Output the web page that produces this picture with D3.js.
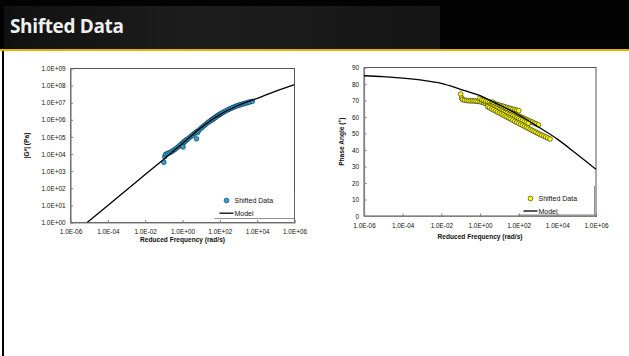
<!DOCTYPE html>
<html><head><meta charset="utf-8">
<script src="https://cdn.jsdelivr.net/npm/d3@7"></script>
<style>html,body{margin:0;padding:0;background:#fff;}svg{display:block;}</style>
</head><body>
<svg id="c" width="629" height="356"></svg>
<script>
// ---------- DATA ----------
const slideTitle = "Shifted Data";
const xTickValues = [1e-6, 1e-4, 1e-2, 1e0, 1e2, 1e4, 1e6];
const xTickLabels = ["1.0E-06","1.0E-04","1.0E-02","1.0E+00","1.0E+02","1.0E+04","1.0E+06"];
const gTickValues = [1e0,1e1,1e2,1e3,1e4,1e5,1e6,1e7,1e8,1e9];
const gTickLabels = ["1.0E+00","1.0E+01","1.0E+02","1.0E+03","1.0E+04","1.0E+05","1.0E+06","1.0E+07","1.0E+08","1.0E+09"];
const phaseTicks = [0,10,20,30,40,50,60,70,80,90];
const xTitle = "Reduced Frequency (rad/s)";
const gTitle = "|G*| (Pa)";
const phaseTitle = "Phase Angle (°)";
const legendNames = ["Shifted Data", "Model"];

// |G*| model [freq, Pa]
const gModel = [[7.8e-6,1],[1e-4,1.0e1],[1e-3,7.9e1],[1e-2,6.3e2],[1e-1,5.0e3],[1,4.2e4],[10,3.5e5],[100,2.0e6],[1000,7.1e6],[1e4,1.8e7],[1e5,4.8e7],[1e6,1.15e8]];
// |G*| shifted data, by temperature segment [freq, Pa]
const gDataA = [[0.1,3.3e3],[0.112,7.1e3],[0.126,9.5e3],[0.158,1.07e4],[0.2,1.2e4],[0.251,1.35e4],[0.316,1.58e4],[0.398,1.9e4],[0.501,2.3e4],[0.631,2.8e4],[0.794,3.5e4],[1,4.4e4],[1.26,5.4e4],[1.58,6.6e4]];
const gDataB = [[1.07,2.6e4],[1.2,4.8e4],[1.41,5.8e4],[1.78,7.1e4],[2.24,8.7e4],[2.82,1.07e5],[3.55,1.32e5],[4.47,1.62e5],[5.62,2.0e5]];
const gDataC = [[5.62,7.8e4],[6.31,1.78e5],[7.08,2.3e5],[8.91,2.9e5],[11.2,3.6e5],[14.1,4.5e5],[17.8,5.5e5],[22.4,6.8e5],[28.2,8.1e5],[35.5,9.8e5],[44.7,1.17e6],[56.2,1.41e6],[70.8,1.66e6],[89.1,1.95e6],[112,2.24e6]];
const gDataD = [[39.8,1.0e6],[50.1,1.23e6],[63.1,1.48e6],[79.4,1.78e6],[100,2.09e6],[126,2.45e6],[158,2.82e6],[200,3.24e6],[251,3.72e6],[316,4.17e6],[398,4.68e6],[501,5.25e6],[631,5.89e6],[794,6.46e6],[1000,7.08e6],[1259,7.59e6],[1585,8.32e6],[1995,8.91e6],[2512,9.55e6],[3162,1.02e7],[3981,1.10e7],[5495,1.20e7]];

// Phase angle model [freq, deg]
const pModel = [[1e-6,85.0],[1e-5,84.5],[1e-4,83.6],[1e-3,82.3],[1e-2,80.4],[1e-1,76.8],[1,72.9],[10,67.3],[100,61.2],[1000,54.1],[1e4,46.6],[1e5,37.6],[1e6,28.3]];
// Phase angle shifted data [freq, deg]
const pDataA = [[0.1,73.9],[0.112,71.4],[0.126,70.6],[0.158,70.2],[0.2,70.0],[0.251,69.9],[0.316,69.8],[0.398,69.8],[0.501,69.7],[0.631,69.6],[0.794,69.5],[1,69.3],[1.26,69.0],[1.58,68.6],[2.0,68.2],[2.51,67.8],[3.16,67.4]];
const pDataB = [[1,71.3],[1.26,70.4],[1.58,70.0],[2.0,69.6],[2.51,69.3],[3.16,68.9],[3.98,68.6],[5.01,68.2],[6.31,67.9],[7.94,67.5],[10,67.2],[12.6,66.8],[15.8,66.5],[20,66.1],[25.1,65.8],[31.6,65.4],[39.8,65.1],[50.1,64.7],[63.1,64.4],[79.4,64.1],[100,63.8]];
const pDataC = [[4.57,69.0],[5.01,67.6],[6.31,67.0],[7.94,66.5],[10,66.0],[12.6,65.5],[15.8,64.9],[20,64.4],[25.1,63.9],[31.6,63.3],[39.8,62.8],[50.1,62.2],[63.1,61.7],[79.4,61.2],[100,60.6],[126,60.1],[158,59.6],[200,59.0],[251,58.5],[316,57.9],[398,57.4],[501,56.9],[631,56.3],[794,55.8],[1047,55.2]];
const pDataD = [[3.16,67.0],[3.98,66.5],[5.01,66.0],[6.31,65.4],[7.94,64.9],[10,64.3],[12.6,63.8],[15.8,63.3],[20,62.7],[25.1,62.2],[31.6,61.6],[39.8,61.1],[50.1,60.6],[63.1,60.0],[79.4,59.5],[100,58.9],[126,58.4],[158,57.9],[200,57.3],[251,56.8],[316,56.2]];
const pDataE = [[2.51,66.2],[3.16,65.6],[3.98,64.9],[5.01,64.3],[6.31,63.7],[7.94,63.0],[10,62.4],[12.6,61.8],[15.8,61.2],[20,60.5],[25.1,59.9],[31.6,59.3],[39.8,58.7],[50.1,58.1],[63.1,57.4],[79.4,56.8],[100,56.2],[126,55.6],[158,55.0],[200,54.4],[251,53.8],[316,53.2],[398,52.5],[501,51.9],[631,51.3],[794,50.7],[1000,50.1],[1259,49.5],[1585,49.0],[1995,48.4],[2512,47.9],[3162,47.3],[4169,46.7]];

// ---------- DRAW ----------
const svg = d3.select("#c");
const FONT = "'Liberation Sans', Arial, sans-serif";
const defs = svg.append("defs");

// header bar
svg.append("rect").attr("x",0).attr("y",0).attr("width",629).attr("height",49).attr("fill","#030303");
const grad = defs.append("linearGradient").attr("id","hg").attr("x1","0").attr("x2","1");
grad.append("stop").attr("offset","0").attr("stop-color","#111");
grad.append("stop").attr("offset","0.45").attr("stop-color","#1d1d1d");
grad.append("stop").attr("offset","1").attr("stop-color","#151515");
svg.append("rect").attr("x",4).attr("y",6).attr("width",436).attr("height",43).attr("fill","url(#hg)");
svg.append("rect").attr("x",0).attr("y",49).attr("width",629).attr("height",2).attr("fill","#e8b100");
svg.append("text").attr("x",10).attr("y",33).attr("fill","#efefef")
  .attr("font-family","'Open Sans', sans-serif").attr("font-weight",700).attr("font-size",19)
  .attr("letter-spacing",-0.35)
  .text(slideTitle);
// slide frame
svg.append("line").attr("x1",3).attr("x2",3).attr("y1",51).attr("y2",356).attr("stroke","#000").attr("stroke-width",2);

function chart(cfg){
  const g = svg.append("g");
  const x = d3.scaleLog().domain([1e-6,1e6]).range([cfg.x0,cfg.x1]);
  const y = cfg.y;
  // plot box
  g.append("rect").attr("x",cfg.x0).attr("y",cfg.y1).attr("width",cfg.x1-cfg.x0).attr("height",cfg.y0-cfg.y1)
    .attr("fill","#fff").attr("stroke","#444").attr("stroke-width",0.9);
  // axes
  const xa = d3.axisBottom(x).tickValues(xTickValues).tickSize(-2.5).tickPadding(7)
    .tickFormat((d,i)=>xTickLabels[i]);
  const xg = g.append("g").attr("transform",`translate(0,${cfg.y0})`).call(xa);
  const ya = d3.axisLeft(y).tickValues(cfg.yTicks).tickSize(-2.5).tickPadding(cfg.yPad)
    .tickFormat((d,i)=>cfg.yLabels[i]);
  const yg = g.append("g").attr("transform",`translate(${cfg.x0},0)`).call(ya);
  [xg,yg].forEach(a=>{
    a.select(".domain").attr("stroke","#808080").attr("stroke-width",1.2);
    a.selectAll(".tick line").attr("stroke","#808080");
    a.selectAll("text").attr("font-family",FONT).attr("font-size",6.4).attr("fill","#111");
  });
  // titles
  g.append("text").attr("x",(cfg.x0+cfg.x1)/2).attr("y",cfg.xtY).attr("text-anchor","middle")
    .attr("font-family",FONT).attr("font-weight","bold").attr("font-size",6.6).attr("fill","#111").text(xTitle);
  g.append("text").attr("transform",`translate(${cfg.ytX},${(cfg.y0+cfg.y1)/2}) rotate(-90)`).attr("text-anchor","middle")
    .attr("font-family",FONT).attr("font-weight","bold").attr("font-size",6.6).attr("fill","#111").text(cfg.yTitle);
  // clip
  const cid = "clip"+cfg.id;
  defs.append("clipPath").attr("id",cid).append("rect")
    .attr("x",cfg.x0).attr("y",cfg.y1).attr("width",cfg.x1-cfg.x0).attr("height",cfg.y0-cfg.y1);
  // data markers
  const pts = g.append("g");
  cfg.data.forEach(seg=>{
    pts.selectAll(null).data(seg).enter().append("circle")
      .attr("cx",d=>x(d[0])).attr("cy",d=>y(d[1])).attr("r",2.4)
      .attr("fill",cfg.mFill).attr("stroke",cfg.mStroke).attr("stroke-width",0.6);
  });
  // model line
  const line = d3.line().x(d=>x(d[0])).y(d=>y(d[1])).curve(d3.curveMonotoneX);
  g.append("path").attr("clip-path",`url(#${cid})`).datum(cfg.model).attr("d",line)
    .attr("fill","none").attr("stroke","#000").attr("stroke-width",1.3);
  // legend
  const L = g.append("g");
  const lx = cfg.lgR - cfg.lgW;
  L.append("path").attr("d",`M${cfg.lgR},${cfg.lgT}V${cfg.lgB}H${lx}`).attr("fill","none").attr("stroke","#666").attr("stroke-width",0.7);
  L.append("circle").attr("cx",lx+12).attr("cy",cfg.lgB-cfg.mOff).attr("r",2.4)
    .attr("fill",cfg.mFill).attr("stroke",cfg.mStroke).attr("stroke-width",0.6);
  L.append("text").attr("x",lx+20).attr("y",cfg.lgB-cfg.mOff+2.5).attr("font-family",FONT).attr("font-size",7).attr("fill","#111").text(legendNames[0]);
  L.append("line").attr("x1",lx+5).attr("x2",lx+19).attr("y1",cfg.lgB-cfg.lOff).attr("y2",cfg.lgB-cfg.lOff).attr("stroke","#000").attr("stroke-width",1.3);
  L.append("text").attr("x",lx+20).attr("y",cfg.lgB-cfg.lOff+2.5).attr("font-family",FONT).attr("font-size",7).attr("fill","#111").text(legendNames[1]);
}

chart({id:"g", x0:70.5, x1:294.5, y0:222.5, y1:68.5,
  y: d3.scaleLog().domain([1,1e9]).range([222.5,68.5]),
  yTicks:gTickValues, yLabels:gTickLabels, yPad:5, yTitle:gTitle, ytX:29, xtY:241.5,
  data:[gDataA,gDataB,gDataC,gDataD], model:gModel,
  mFill:"#2ba3d6", mStroke:"#0b2b45",
  lgR:294.5, lgT:190, lgB:218.5, lgW:80, mOff:18, lOff:5.3});

chart({id:"p", x0:364, x1:596, y0:216, y1:67.5,
  y: d3.scaleLinear().domain([0,90]).range([216,67.5]),
  yTicks:phaseTicks, yLabels:phaseTicks.map(String), yPad:5, yTitle:phaseTitle, ytX:343.5, xtY:238.5,
  data:[pDataA,pDataB,pDataC,pDataD,pDataE], model:pModel,
  mFill:"#ffff00", mStroke:"#222",
  lgR:594.5, lgT:186, lgB:215, lgW:76, mOff:16.5, lOff:4});
</script>
</body></html>
